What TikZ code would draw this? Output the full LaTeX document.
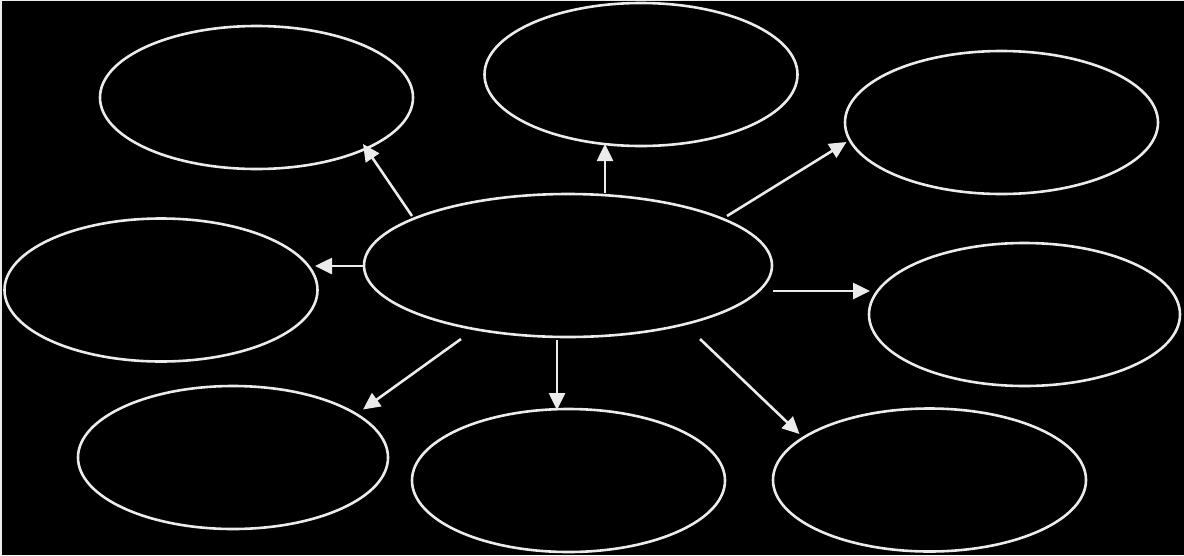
\documentclass[tikz,border=0pt]{standalone}
\usetikzlibrary{arrows.meta,shapes.geometric,calc}
\definecolor{ink}{RGB}{235,235,235}
\begin{document}
\begin{tikzpicture}[x=1pt,y=-1pt,
  bubble/.style={ellipse,draw=ink,line width=2.6pt,inner sep=0pt,outer sep=0pt,minimum width=313pt,minimum height=143pt},
  hub/.style={bubble,minimum width=408pt},
  arr/.style={draw=ink,line width=2.6pt,-{Triangle[length=17pt,width=16pt]}}]
\fill[black] (0,0) rectangle (1184,555);
\useasboundingbox (0,0) rectangle (1184,555);
\fill[ink] (0,0) rectangle (2,555);
\fill[ink] (0,0) rectangle (1184,1);
\node[hub] (c) at (568,265.5) {};
\node[bubble] (tl) at (256.5,97.5) {};
\node[bubble] (tm) at (641,74.5) {};
\node[bubble] (tr) at (1001.5,122.5) {};
\node[bubble] (l) at (161,290) {};
\node[bubble,minimum width=311pt] (r) at (1024.5,314.5) {};
\node[bubble,minimum width=310pt] (bl) at (233,457.5) {};
\node[bubble] (bm) at (568.5,480.5) {};
\node[bubble] (br) at (929.5,480) {};
% arrow start and end points
\coordinate (s1) at ($(c.center)+(-156,-49.5)$);
\coordinate (e1) at ($(tl.center)+(106.5,46.5)$);
\coordinate (s2) at ($(c.center)+(37,-72.5)$);
\coordinate (e2) at ($(tm.center)+(-36,69.5)$);
\coordinate (s3) at ($(c.center)+(159,-49.5)$);
\coordinate (e3) at ($(tr.center)+(-155,19.5)$);
\coordinate (s4) at ($(c.center)+(-205,0.5)$);
\coordinate (e4) at ($(l.center)+(154,-24)$);
\coordinate (s5) at ($(c.center)+(205,25.5)$);
\coordinate (e5) at ($(r.center)+(-154.5,-23.5)$);
\coordinate (s6) at ($(c.center)+(-107,73.5)$);
\coordinate (e6) at ($(bl.center)+(130,-48)$);
\coordinate (s7) at ($(c.center)+(-11,74.5)$);
\coordinate (e7) at ($(bm.center)+(-11.5,-70.5)$);
\coordinate (s8) at ($(c.center)+(132,73.5)$);
\coordinate (e8) at ($(br.center)+(-130,-46)$);
\foreach \i in {1,...,8} {\draw[arr] (s\i) -- (e\i);}
\end{tikzpicture}
\end{document}
